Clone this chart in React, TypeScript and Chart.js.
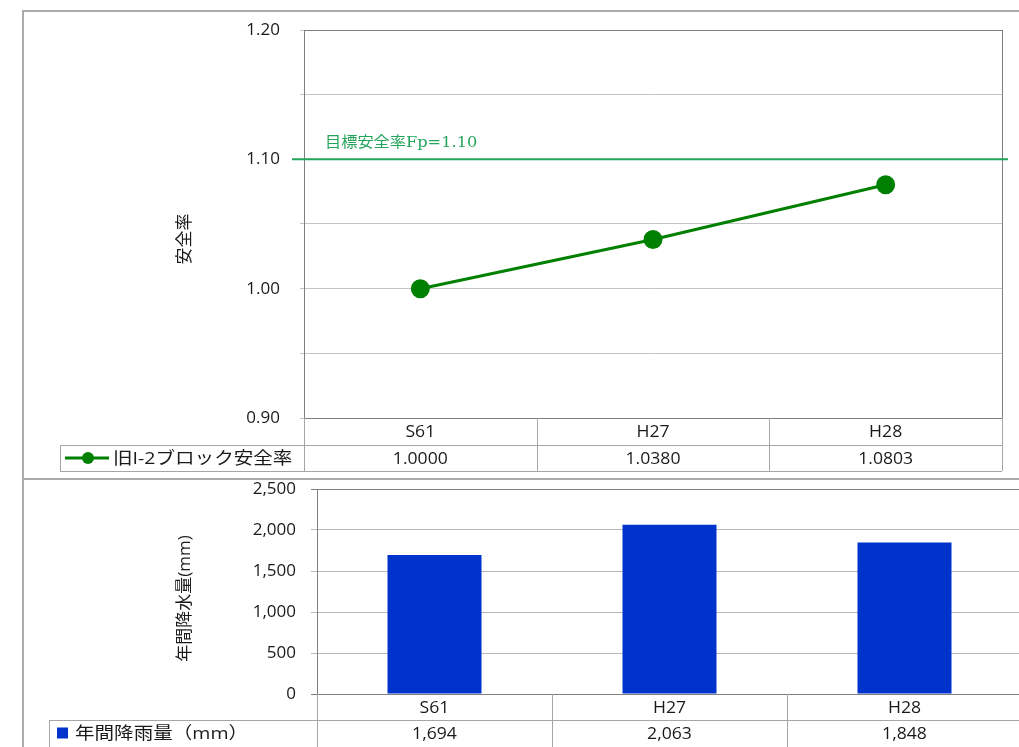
import React, { useEffect, useRef } from 'react';
import { Chart, registerables } from 'chart.js';

Chart.register(...registerables);

// ---- data ----
const categories = ['S61', 'H27', 'H28'];
const safetyValues = [1.0, 1.038, 1.0803];
const safetyTableLabels = ['1.0000', '1.0380', '1.0803'];
const rainValues = [1694, 2063, 1848];
const rainTableLabels = ['1,694', '2,063', '1,848'];
const targetFactor = 1.1;
const targetLabel = '目標安全率Fp=1.10';
const safetySeriesName = '旧I-2ブロック安全率';
const rainSeriesName = '年間降雨量（mm）';
const safetyAxisTitle = '安全率';
const rainAxisTitle = '年間降水量(mm)';
const safetyRange = [0.9, 1.2, 0.05];
const rainRange = [0, 2500, 500];

const FONT = "'Open Sans', 'Noto Sans CJK JP', sans-serif";
const TEXT = '#1a1a1a';
const LINE_GREEN = '#008000';
const TARGET_GREEN = '#25a55c';
const BAR_BLUE = '#0033cc';
const TABLE_LINE = '#a6a6a6';
const BOX_LINE = '#7f7f7f';

function hline(ctx: CanvasRenderingContext2D, x1: number, x2: number, y: number) {
  ctx.beginPath();
  ctx.moveTo(x1, Math.round(y) + 0.5);
  ctx.lineTo(x2, Math.round(y) + 0.5);
  ctx.stroke();
}
function vline(ctx: CanvasRenderingContext2D, x: number, y1: number, y2: number) {
  ctx.beginPath();
  ctx.moveTo(Math.round(x) + 0.5, y1);
  ctx.lineTo(Math.round(x) + 0.5, y2);
  ctx.stroke();
}

function stretchedText(ctx: CanvasRenderingContext2D, text: string, x: number, y: number, sx: number) {
  ctx.save();
  ctx.translate(x, y);
  ctx.scale(sx, 1);
  ctx.fillText(text, 0, 0);
  ctx.restore();
}

function makeTitlePlugin(text: string, cx: number, cyOffset: number) {
  return {
    id: 'axisTitle',
    afterDraw(chart: any) {
      const ctx: CanvasRenderingContext2D = chart.ctx;
      const a = chart.chartArea;
      ctx.save();
      ctx.translate(cx, (a.top + a.bottom) / 2 + cyOffset);
      ctx.rotate(-Math.PI / 2);
      ctx.fillStyle = TEXT;
      ctx.font = `17px ${FONT}`;
      ctx.textAlign = 'center';
      ctx.textBaseline = 'middle';
      ctx.fillText(text, 0, 0);
      ctx.restore();
    },
  };
}

function makeTablePlugin(cfg: {
  values: string[];
  headH: number;
  rowH: number;
  legendLeft: number;
  legendTextX: number;
  name: string;
  marker: (ctx: CanvasRenderingContext2D, cy: number) => void;
}) {
  return {
    id: 'dataTable',
    afterDraw(chart: any) {
      const ctx: CanvasRenderingContext2D = chart.ctx;
      const area = chart.chartArea;
      const xs = chart.scales.x;
      const n = categories.length;
      const half = (area.right - area.left) / n / 2;
      const y0 = area.bottom;
      const y1 = y0 + cfg.headH;
      const y2 = y1 + cfg.rowH;
      ctx.save();
      ctx.strokeStyle = TABLE_LINE;
      ctx.lineWidth = 1;
      hline(ctx, area.left, area.right, y1);
      hline(ctx, cfg.legendLeft, area.right, y2);
      hline(ctx, cfg.legendLeft, area.left, y1);
      vline(ctx, cfg.legendLeft, y1, y2);
      for (let i = 0; i <= n; i++) {
        const x = i < n ? xs.getPixelForValue(i) - half : xs.getPixelForValue(n - 1) + half;
        vline(ctx, x, y0, y2);
      }
      ctx.fillStyle = TEXT;
      ctx.font = `16px ${FONT}`;
      ctx.textAlign = 'center';
      ctx.textBaseline = 'middle';
      categories.forEach((c, i) => {
        const x = xs.getPixelForValue(i);
        stretchedText(ctx, c, x, (y0 + y1) / 2 + 1, 1.1);
        stretchedText(ctx, cfg.values[i], x, (y1 + y2) / 2 + 1, 1.1);
      });
      const cy = (y1 + y2) / 2;
      cfg.marker(ctx, cy);
      ctx.fillStyle = TEXT;
      ctx.font = `17px ${FONT}`;
      ctx.textAlign = 'left';
      stretchedText(ctx, cfg.name, cfg.legendTextX, cy + 1, 1.15);
      ctx.restore();
    },
  };
}

const topBoxPlugin = {
  id: 'topBox',
  afterDraw(chart: any) {
    const ctx: CanvasRenderingContext2D = chart.ctx;
    const a = chart.chartArea;
    const ys = chart.scales.y;
    ctx.save();
    ctx.strokeStyle = BOX_LINE;
    ctx.lineWidth = 1;
    hline(ctx, a.left, a.right, a.top);
    vline(ctx, a.right, a.top, a.bottom);
    hline(ctx, a.left, a.right, a.bottom);
    // target safety factor line
    const ty = ys.getPixelForValue(targetFactor);
    ctx.strokeStyle = TARGET_GREEN;
    ctx.lineWidth = 2;
    ctx.beginPath();
    ctx.moveTo(a.left - 12, ty);
    ctx.lineTo(a.right + 6, ty);
    ctx.stroke();
    ctx.fillStyle = TARGET_GREEN;
    ctx.font = "15px 'DejaVu Serif', 'Noto Sans CJK JP', serif";
    ctx.textAlign = 'left';
    ctx.textBaseline = 'alphabetic';
    stretchedText(ctx, targetLabel, a.left + 21, ty - 12, 1.08);
    ctx.restore();
  },
};

const bottomBoxPlugin = {
  id: 'bottomBox',
  afterDraw(chart: any) {
    const ctx: CanvasRenderingContext2D = chart.ctx;
    const a = chart.chartArea;
    ctx.save();
    ctx.strokeStyle = BOX_LINE;
    ctx.lineWidth = 1;
    hline(ctx, a.left - 6, a.right, a.top);
    hline(ctx, a.left - 6, a.right, a.bottom);
    vline(ctx, a.right, a.top, a.bottom);
    ctx.restore();
  },
};

export default function App() {
  const topRef = useRef<HTMLCanvasElement>(null);
  const botRef = useRef<HTMLCanvasElement>(null);

  useEffect(() => {
    const top = new Chart(topRef.current!, {
      type: 'line',
      data: {
        labels: categories,
        datasets: [
          {
            label: safetySeriesName,
            data: safetyValues,
            borderColor: LINE_GREEN,
            backgroundColor: LINE_GREEN,
            borderWidth: 3,
            pointRadius: 8,
            pointBackgroundColor: LINE_GREEN,
            pointBorderColor: LINE_GREEN,
            tension: 0,
          },
        ],
      },
      options: {
        responsive: false,
        animation: false,
        layout: { padding: { top: 30, right: 17, bottom: 61, left: 170 } },
        plugins: { legend: { display: false }, tooltip: { enabled: false } },
        scales: {
          x: { type: 'category', display: false, offset: true },
          y: {
            min: safetyRange[0],
            max: safetyRange[1],
            afterFit: (s: any) => {
              s.width = 134;
              s.paddingTop = 0;
              s.paddingBottom = 0;
            },
            ticks: {
              stepSize: safetyRange[2],
              padding: 20,
              color: TEXT,
              font: { size: 17, family: FONT },
              callback: (v: any) => {
                const n = Math.round(Number(v) * 100);
                return n % 10 === 0 ? (n / 100).toFixed(2) : '';
              },
            },
            grid: { color: '#c4c4c4', tickLength: 4, lineWidth: 1 },
            border: { display: true, color: BOX_LINE },
            title: { display: false },
          },
        },
      },
      plugins: [
        topBoxPlugin,
        makeTitlePlugin(safetyAxisTitle, 185, 15),
        makeTablePlugin({
          values: safetyTableLabels,
          headH: 27,
          rowH: 26,
          legendLeft: 60,
          legendTextX: 113,
          name: safetySeriesName,
          marker: (ctx, cy) => {
            ctx.strokeStyle = LINE_GREEN;
            ctx.fillStyle = LINE_GREEN;
            ctx.lineWidth = 3;
            ctx.beginPath();
            ctx.moveTo(65, cy);
            ctx.lineTo(109, cy);
            ctx.stroke();
            ctx.beginPath();
            ctx.arc(88, cy, 6, 0, Math.PI * 2);
            ctx.fill();
          },
        }),
      ],
    } as any);

    const bot = new Chart(botRef.current!, {
      type: 'bar',
      data: {
        labels: categories,
        datasets: [
          {
            label: rainSeriesName,
            data: rainValues,
            backgroundColor: BAR_BLUE,
            borderWidth: 0,
            categoryPercentage: 1,
            barPercentage: 0.4,
          },
        ],
      },
      options: {
        responsive: false,
        animation: false,
        layout: { padding: { top: 10, right: 8, bottom: 53, left: 170 } },
        plugins: { legend: { display: false }, tooltip: { enabled: false } },
        scales: {
          x: { type: 'category', display: false, offset: true },
          y: {
            min: rainRange[0],
            max: rainRange[1],
            afterFit: (s: any) => {
              s.width = 147;
              s.paddingTop = 0;
              s.paddingBottom = 0;
            },
            ticks: {
              stepSize: rainRange[2],
              padding: 15,
              color: TEXT,
              font: { size: 17, family: FONT },
              callback: (v: any) => Number(v).toLocaleString('en-US'),
            },
            grid: { color: '#b8b8b8', tickLength: 6, lineWidth: 1 },
            border: { display: true, color: BOX_LINE },
            title: { display: false },
          },
        },
      },
      plugins: [
        bottomBoxPlugin,
        makeTitlePlugin(rainAxisTitle, 185, 7),
        makeTablePlugin({
          values: rainTableLabels,
          headH: 26,
          rowH: 27,
          legendLeft: 49,
          legendTextX: 75,
          name: rainSeriesName,
          marker: (ctx, cy) => {
            ctx.fillStyle = BAR_BLUE;
            ctx.fillRect(57, cy - 6, 11, 11);
          },
        }),
      ],
    } as any);

    return () => {
      top.destroy();
      bot.destroy();
    };
  }, []);

  return (
    <div
      style={{
        position: 'absolute',
        left: 0,
        top: 0,
        width: 1019,
        height: 747,
        overflow: 'hidden',
        background: '#ffffff',
      }}
    >
      <div
        style={{
          position: 'absolute',
          left: 22,
          top: 10,
          width: 1100,
          height: 800,
          borderLeft: '2px solid #ababab',
          borderTop: '2px solid #ababab',
        }}
      />
      <div
        style={{
          position: 'absolute',
          left: 22,
          top: 478,
          width: 1100,
          height: 0,
          borderTop: '2px solid #ababab',
        }}
      />
      <canvas ref={topRef} width={1019} height={479} style={{ position: 'absolute', left: 0, top: 0 }} />
      <canvas ref={botRef} width={1030} height={268} style={{ position: 'absolute', left: 0, top: 479 }} />
    </div>
  );
}
